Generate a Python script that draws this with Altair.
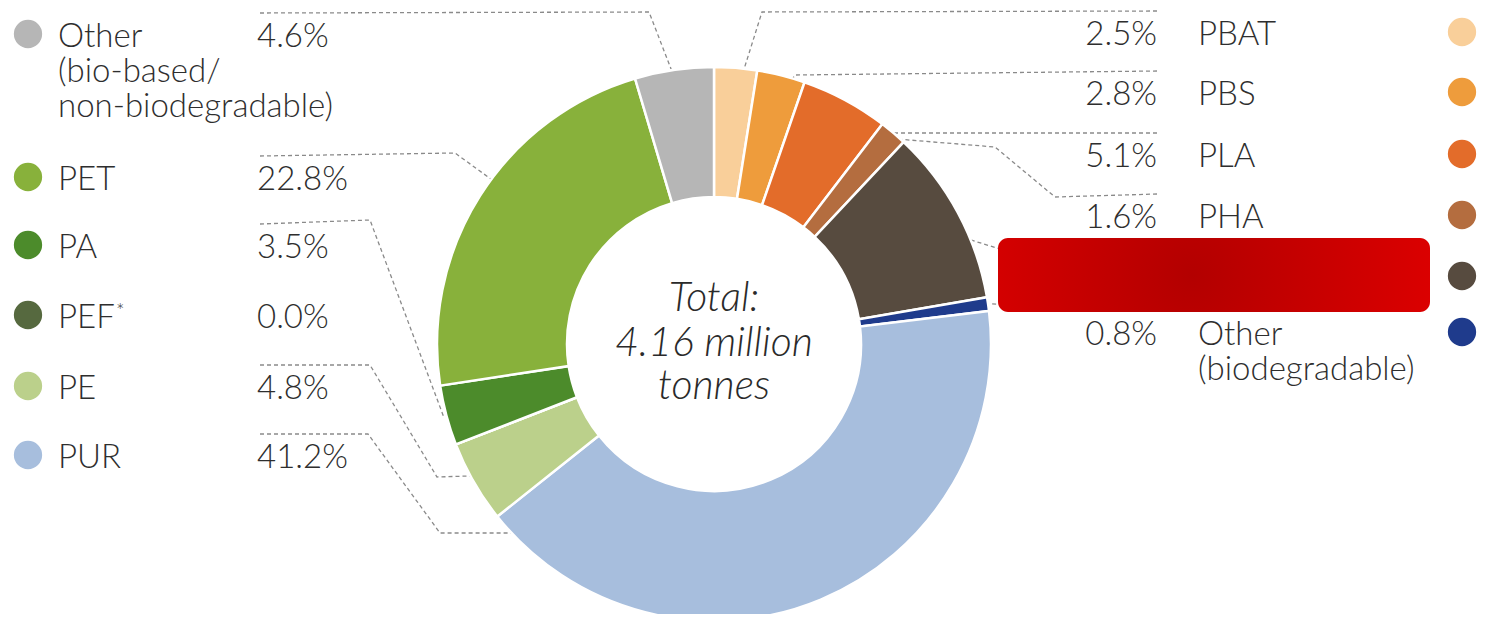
import math
import altair as alt
import pandas as pd

# ---------------- data ----------------
names = ["PBAT", "PBS", "PLA", "PHA", "(redacted)", "Other (biodegradable)",
         "PUR", "PE", "PEF", "PA", "PET", "Other (bio-based/non-biodegradable)"]
values = [2.5, 2.8, 5.1, 1.6, 10.3, 0.8, 41.2, 4.8, 0.0, 3.5, 22.8, 4.6]
colors = ["#F9CF9A", "#EE9C3C", "#E36C2A", "#B46D3F", "#574B3F", "#1F3B8C",
          "#A7BEDD", "#BBD08B", "#56693F", "#4C8B2B", "#88B13B", "#B6B6B6"]
label_lines = [["PBAT"], ["PBS"], ["PLA"], ["PHA"], [], ["Other", "(biodegradable)"],
               ["PUR"], ["PE"], ["PEF"], ["PA"], ["PET"],
               ["Other", "(bio-based/", "non-biodegradable)"]]
center_lines = ["Total:", "4.16 million", "tonnes"]

# ---------------- layout (page pixels) ----------------
W, H = 1483, 606
CX, CY = 714, 344
R_OUT, R_IN = 277, 147
FONT = "Lato"
FS = 33
LH = 35
side = ["R"] * 6 + ["L"] * 6
row_base = {  # baseline of first text line
    "PBAT": 45, "PBS": 105, "PLA": 167, "PHA": 228, "(redacted)": 289,
    "Other (biodegradable)": 345,
    "Other (bio-based/non-biodegradable)": 47, "PET": 190, "PA": 258,
    "PEF": 328, "PE": 399, "PUR": 468,
}
L_DOT, L_NAME, L_PCT = 28, 58, 257
R_PCT, R_NAME, R_DOT = 1157, 1198, 1462
# leader anchor: (fraction of segment angle, radius); elbows in page pixels
anchor = {
    "PBAT": (0.5, 240), "PBS": (0.5, 241), "PLA": (0.6, 232), "PHA": (0.9, 278),
    "(redacted)": (0.5, 246), "Other (biodegradable)": (0.5, 279),
    "PUR": (0.95, 263), "PE": (0.5, 264), "PA": (0.5, 280), "PET": (0.55, 262),
    "Other (bio-based/non-biodegradable)": (0.55, 250),
}
elbows = {
    "PBAT": [(762, 12)], "PBS": [(795, 75)], "PLA": [(886, 133), (856, 137)],
    "PHA": [(1055, 197), (995, 147)], "(redacted)": [],
    "Other (biodegradable)": [],
    "PUR": [(368, 434), (440, 533)], "PE": [(370, 365), (437, 477)],
    "PA": [(370, 220)], "PET": [(455, 153)],
    "Other (bio-based/non-biodegradable)": [(649, 12)],
}

# ---------------- tables ----------------
seg = pd.DataFrame({"name": names, "value": values, "idx": range(len(names))})

total = sum(values)
cum = 0.0
line_rows = []
for i, n in enumerate(names):
    start, span = cum / total * 360, values[i] / total * 360
    cum += values[i]
    if n not in anchor:
        continue
    frac, r = anchor[n]
    ang = math.radians(start + frac * span)
    ax, ay = CX + r * math.sin(ang), CY - r * math.cos(ang)
    ly = row_base[n] - 34
    first = (L_PCT + 3, ly) if side[i] == "L" else (R_PCT, ly)
    pts = [first] + elbows[n] + [(ax, ay)]
    if n == "(redacted)":
        pts = [(ax, ay), (1000, 249)]
    for k, (px, py) in enumerate(pts):
        line_rows.append({"lid": n, "seq": k, "x": px, "y": py})
lines = pd.DataFrame(line_rows)

dots, left_txt, right_txt = [], [], []
for i, n in enumerate(names):
    b = row_base[n]
    pct = f"{values[i]:.1f}%"
    dots.append({"name": n, "x": L_DOT if side[i] == "L" else R_DOT, "y": b - 13})
    if not label_lines[i]:
        continue
    if side[i] == "L":
        left_txt.append({"t": pct, "x": L_PCT, "y": b})
        for k, s in enumerate(label_lines[i]):
            left_txt.append({"t": s, "x": L_NAME, "y": b + k * LH})
    else:
        right_txt.append({"t": pct, "x": R_PCT, "y": b})
        for k, s in enumerate(label_lines[i]):
            left_txt.append({"t": s, "x": R_NAME, "y": b + k * LH})
dots = pd.DataFrame(dots)
left_txt = pd.DataFrame(left_txt)
right_txt = pd.DataFrame(right_txt)
sup = pd.DataFrame([{"t": "*", "x": 116, "y": 302}])
center = pd.DataFrame({"t": center_lines, "x": [CX] * 3, "y": [311, 356, 399]})
redbox = pd.DataFrame([{"x": 998, "x2": 1430, "y": 238, "y2": 312}])

xs = alt.Scale(domain=[8, 8 + W], nice=False, zero=False)
ys = alt.Scale(domain=[8, 8 + H], nice=False, zero=False, reverse=True)
X = lambda f="x": alt.X(f"{f}:Q", scale=xs, axis=None)
Y = lambda f="y": alt.Y(f"{f}:Q", scale=ys, axis=None)
cscale = alt.Scale(domain=names, range=colors)

donut = alt.Chart(seg).mark_arc(
    innerRadius=R_IN, outerRadius=R_OUT, stroke="white", strokeWidth=2.5
).encode(
    theta=alt.Theta("value:Q", stack=True),
    order=alt.Order("idx:Q"),
    color=alt.Color("name:N", scale=cscale, legend=None),
    x=alt.value(CX - 8), y=alt.value(CY - 8),
)

leaders = alt.Chart(lines).mark_line(
    color="#8a8a8a", strokeDash=[4, 3], strokeWidth=1.3
).encode(x=X(), y=Y(), detail="lid:N", order=alt.Order("seq:Q"))

dot_layer = alt.Chart(dots).mark_circle(size=800, opacity=1).encode(
    x=X(), y=Y(), color=alt.Color("name:N", scale=cscale, legend=None)
)

TXT = "#2e2e2e"
txt_l = alt.Chart(left_txt).mark_text(
    align="left", baseline="alphabetic", font=FONT, fontSize=FS,
    fontWeight=300, color=TXT
).encode(x=X(), y=Y(), text="t:N")
txt_r = alt.Chart(right_txt).mark_text(
    align="right", baseline="alphabetic", font=FONT, fontSize=FS,
    fontWeight=300, color=TXT
).encode(x=X(), y=Y(), text="t:N")
txt_sup = alt.Chart(sup).mark_text(
    align="left", baseline="top", font=FONT, fontSize=20, fontWeight=300, color=TXT
).encode(x=X(), y=Y(), text="t:N")
txt_c = alt.Chart(center).mark_text(
    align="center", baseline="alphabetic", font=FONT, fontSize=41,
    fontStyle="italic", fontWeight=300, color="#2a2a2a"
).encode(x=X(), y=Y(), text="t:N")

grad = alt.Gradient(
    gradient="radial",
    stops=[alt.GradientStop(color="#B30000", offset=0),
           alt.GradientStop(color="#DE0000", offset=1)],
    x1=0.45, y1=0.5, r1=0, x2=0.45, y2=0.5, r2=0.6,
)
box = alt.Chart(redbox).mark_rect(fill=grad, cornerRadius=10).encode(
    x=X(), x2="x2:Q", y=Y(), y2="y2:Q"
)

chart = alt.layer(
    leaders, donut, dot_layer, txt_l, txt_r, txt_sup, txt_c, box
).properties(
    width=W, height=H, padding=0, autosize=alt.AutoSizeParams(type="none"),
    background="white",
).configure_view(stroke=None)

chart.save("out.html", embed_options={"renderer": "svg", "actions": False})
